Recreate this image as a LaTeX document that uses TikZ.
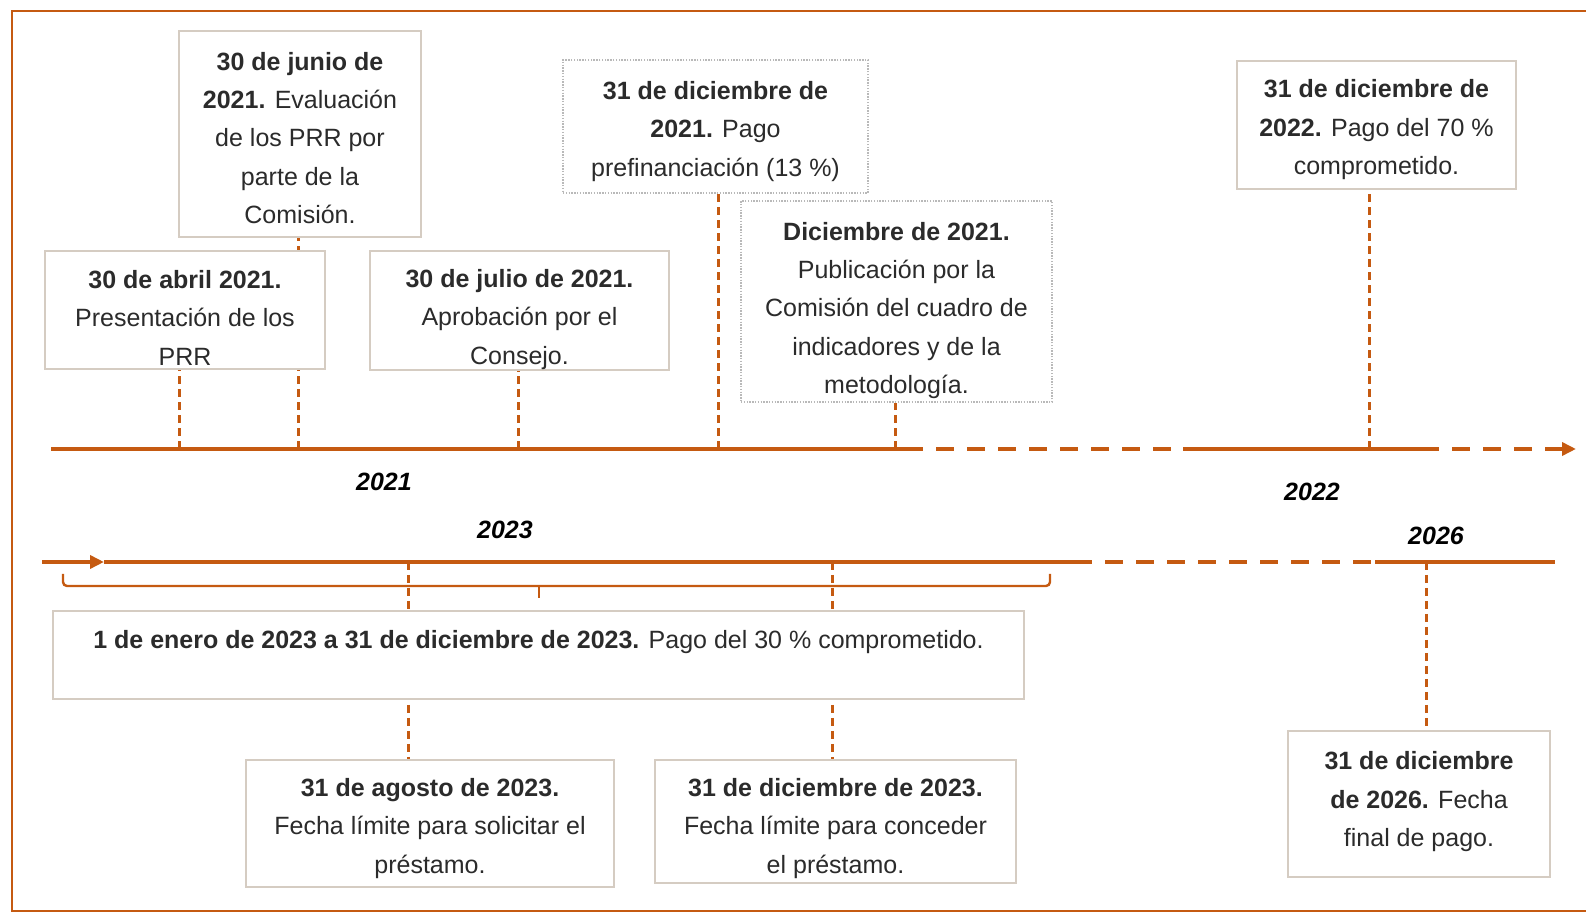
\documentclass[tikz,border=0pt]{standalone}
\usepackage{fontspec}
\setmainfont{Liberation Sans}
\usetikzlibrary{arrows.meta}
\pgfdeclarelayer{background}
\pgfsetlayers{background,main}
\definecolor{orng}{HTML}{C55A11}
\definecolor{boxcol}{HTML}{D5CCC2}
\definecolor{txtcol}{HTML}{2B2B2B}
% strut that pushes the text of a box down
\newcommand\lift[1]{\rule{0pt}{#1pt}}
\tikzset{
  evbox/.style={draw=boxcol, fill=white, line width=0.6pt, align=center, inner sep=0pt,
    text=txtcol, font=\fontsize{12.5}{19.2}\selectfont},
  evdot/.style={evbox, draw=gray!55, dash pattern=on 0.7pt off 0.7pt},
  tick/.style={draw=orng, line width=1.5pt, dash pattern=on 4pt off 2.5pt},
  axis/.style={draw=orng, line width=2pt},
  axisdash/.style={axis, dash pattern=on 9pt off 6.5pt},
  yearlab/.style={font=\fontsize{12.5}{15}\selectfont\bfseries\itshape}
}
\begin{document}
\begin{tikzpicture}[x=0.5pt, y=-0.5pt]
\useasboundingbox (0,0) rectangle (1586,913);
\draw[orng, line width=1pt] (1586,11) -- (12,11) -- (12,911) -- (1586,911);

% events above the first line
\node[evbox, minimum width=140pt, minimum height=59pt] (abril) at (185,310)
  {\lift{17}\textbf{30 de abril 2021.}\\Presentación de los\\PRR};
\node[evbox, minimum width=121pt, minimum height=103pt] (junio) at (300,134)
  {\lift{13}\textbf{30 de junio de}\\\textbf{2021.} Evaluación\\de los PRR por\\parte de la\\Comisión.};
\node[evbox, minimum width=149.5pt, minimum height=59.5pt] (julio) at (519.5,310.5)
  {\lift{18}\textbf{30 de julio de 2021.}\\Aprobación por el\\Consejo.};
\node[evdot, minimum width=152.5pt, minimum height=66.5pt] (dic21) at (715.5,126.5)
  {\lift{14}\textbf{31 de diciembre de}\\\textbf{2021.} Pago\\prefinanciación (13~\%)};
\node[evdot, minimum width=155.5pt, minimum height=100.5pt] (pub21) at (896.5,301.5)
  {\lift{18}\textbf{Diciembre de 2021.}\\Publicación por la\\Comisión del cuadro de\\indicadores y de la\\metodología.};
\node[evbox, minimum width=139.5pt, minimum height=64pt] (dic22) at (1376.5,125)
  {\lift{14}\textbf{31 de diciembre de}\\\textbf{2022.} Pago del 70~\%\\comprometido.};

% events below the second line
\node[evbox, minimum width=485.5pt, minimum height=44pt] (pago23) at (538.5,655)
  {\lift{13}\textbf{1 de enero de 2023 a 31 de diciembre de 2023.} Pago del 30~\% comprometido.\\\mbox{}};
\node[evbox, minimum width=184pt, minimum height=63.5pt] (ago23) at (430,823.5)
  {\lift{14}\textbf{31 de agosto de 2023.}\\Fecha límite para solicitar el\\préstamo.};
\node[evbox, minimum width=180.5pt, minimum height=61.5pt] (dic23) at (835.5,821.5)
  {\lift{16}\textbf{31 de diciembre de 2023.}\\Fecha límite para conceder\\el préstamo.};
\node[evbox, minimum width=131pt, minimum height=73pt] (dic26) at (1419,804)
  {\textbf{31 de diciembre}\\\textbf{de 2026.} Fecha\\final de pago.\rule[-5pt]{0pt}{0pt}};

% first line 2021-2022
\coordinate (a0) at (51,449);
\coordinate (a1) at (905,449);
\coordinate (a2) at (1183,449);
\coordinate (a3) at (1421,449);
\coordinate (a4) at (1576,449);
\draw[axis] (a0) -- (a1);
\draw[axisdash] (a1) -- (a2);
\draw[axis] (a2) -- (a3);
\draw[axisdash, -{Triangle[length=7pt, width=6.5pt]}] (a3) -- (a4);

% second line 2023-2026
\coordinate (b0) at (42,562);
\coordinate (barr) at (104,562);
\coordinate (b1) at (1074,562);
\coordinate (b2) at (1375,562);
\coordinate (b3) at (1555,562);
\draw[axis, -{Triangle[length=7pt, width=6.5pt]}] (b0) -- (barr);
\draw[axis] (barr) -- (b1);
\draw[axisdash] (b1) -- (b2);
\draw[axis] (b2) -- (b3);

% brace for the 2023 period
\coordinate (brl) at (63,574);
\coordinate (brr) at (1050,574);
\coordinate (brm) at (539,586);
\draw[orng, line width=1.2pt, rounded corners=2pt] (brl) |- (brm) -| (brr);
\draw[orng, line width=1.2pt] (brm) -- ++(0,12);

% years
\node[yearlab] (y21) at (384,482) {2021};
\node[yearlab] (y22) at (1312,492) {2022};
\node[yearlab] (y23) at (505,530) {2023};
\node[yearlab] (y26) at (1436,536) {2026};

% ticks
\begin{pgfonlayer}{background}
\draw[tick] (179,449) coordinate (t1) -- (t1 |- abril.south);
\draw[tick] (298,449) coordinate (t2) -- (t2 |- junio.south);
\draw[tick] (518,449) coordinate (t3) -- (t3 |- julio.south);
\draw[tick] (718,449) coordinate (t4) -- (t4 |- dic21.south);
\draw[tick] (895,449) coordinate (t5) -- (t5 |- pub21.south);
\draw[tick] (1369,449) coordinate (t6) -- (t6 |- dic22.south);
\draw[tick] (408,562) coordinate (t7) -- (t7 |- ago23.north);
\draw[tick] (832,562) coordinate (t8) -- (t8 |- dic23.north);
\draw[tick] (1426,562) coordinate (t9) -- (t9 |- dic26.north);
\end{pgfonlayer}
\end{tikzpicture}
\end{document}
